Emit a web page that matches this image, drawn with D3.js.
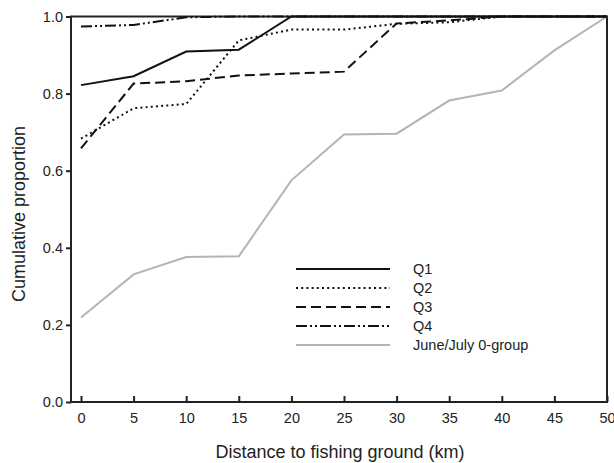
<!DOCTYPE html>
<html>
<head>
<meta charset="utf-8">
<script src="https://cdn.jsdelivr.net/npm/d3@7"></script>
<style>
  body { margin: 0; background: #fff; }
  text { font-family: "Liberation Sans", Arial, sans-serif; fill: #222; }
</style>
</head>
<body>
<script>
// distances (km)
var distances = [0, 5, 10, 15, 20, 25, 30, 35, 40, 45, 50];

// cumulative proportions
var q1 = [0.822, 0.845, 0.909, 0.914, 1.0, 1.0, 1.0, 1.0, 1.0, 1.0, 1.0];
var q2 = [0.683, 0.762, 0.773, 0.938, 0.966, 0.966, 0.981, 0.985, 1.0, 1.0, 1.0];
var q3 = [0.658, 0.826, 0.832, 0.847, 0.852, 0.857, 0.982, 0.99, 1.0, 1.0, 1.0];
var q4 = [0.974, 0.978, 0.998, 1.0, 1.0, 1.0, 1.0, 1.0, 1.0, 1.0, 1.0];
var juneJuly = [0.219, 0.331, 0.376, 0.378, 0.575, 0.694, 0.696, 0.782, 0.808, 0.912, 1.0];

var seriesNames = ["Q1", "Q2", "Q3", "Q4", "June/July 0-group"];
var seriesValues = [q1, q2, q3, q4, juneJuly];
var seriesColors = ["#111", "#111", "#111", "#111", "#b4b4b4"];
var seriesDash = [null, "2,3.2", "10,5", "11,3,2,3,2,3", null];

var xTicks = [0, 5, 10, 15, 20, 25, 30, 35, 40, 45, 50];
var yTicks = [0, 0.2, 0.4, 0.6, 0.8, 1.0];

var width = 614, height = 463;

var svg = d3.select("body").append("svg")
    .attr("width", width)
    .attr("height", height);

var xScale = d3.scaleLinear().domain([0, 50]).range([81, 607]);
var yScale = d3.scaleLinear().domain([0, 1]).range([402, 16.5]);

// frame
svg.append("rect")
    .attr("x", 71)
    .attr("y", 16.5)
    .attr("width", 607 - 71)
    .attr("height", 402 - 16.5)
    .attr("fill", "none")
    .attr("stroke", "#222")
    .attr("stroke-width", 2);

// x axis (ticks pointing inward)
var xAxis = d3.axisBottom(xScale)
    .tickValues(xTicks)
    .tickSizeInner(-6)
    .tickSizeOuter(0)
    .tickPadding(11);

var gx = svg.append("g")
    .attr("transform", "translate(0,402)")
    .call(xAxis);
gx.select(".domain").remove();
gx.selectAll(".tick line").attr("stroke", "#222").attr("stroke-width", 2);
gx.selectAll(".tick text").attr("font-size", 14.5).attr("fill", "#222");

// y axis
var yAxis = d3.axisLeft(yScale)
    .tickValues(yTicks)
    .tickFormat(d3.format(".1f"))
    .tickSizeInner(5)
    .tickSizeOuter(0)
    .tickPadding(3);

var gy = svg.append("g")
    .attr("transform", "translate(71,0)")
    .call(yAxis);
gy.select(".domain").remove();
gy.selectAll(".tick line").attr("stroke", "#222").attr("stroke-width", 2);
gy.selectAll(".tick text").attr("font-size", 14.5).attr("fill", "#222");

// axis titles
svg.append("text")
    .attr("x", 340)
    .attr("y", 458)
    .attr("text-anchor", "middle")
    .attr("font-size", 18)
    .text("Distance to fishing ground (km)");

svg.append("text")
    .attr("transform", "translate(25,214) rotate(-90)")
    .attr("text-anchor", "middle")
    .attr("font-size", 18)
    .text("Cumulative proportion");

// lines
var line = d3.line()
    .x(function(d, i){ return xScale(distances[i]); })
    .y(function(d){ return yScale(d); });

// draw grey first so black lines sit on top
var order = [4, 3, 2, 1, 0];
order.forEach(function(k){
    svg.append("path")
        .datum(seriesValues[k])
        .attr("d", line)
        .attr("fill", "none")
        .attr("stroke", seriesColors[k])
        .attr("stroke-width", 2)
        .attr("stroke-dasharray", seriesDash[k]);
});

// legend
var legend = svg.append("g");
seriesNames.forEach(function(name, i){
    var y = 269 + i * 19;
    legend.append("line")
        .attr("x1", 296)
        .attr("x2", 390)
        .attr("y1", y)
        .attr("y2", y)
        .attr("stroke", seriesColors[i])
        .attr("stroke-width", 2)
        .attr("stroke-dasharray", seriesDash[i]);
    legend.append("text")
        .attr("x", 413)
        .attr("y", y + 5)
        .attr("font-size", 14.5)
        .text(name);
});
</script>
</body>
</html>
